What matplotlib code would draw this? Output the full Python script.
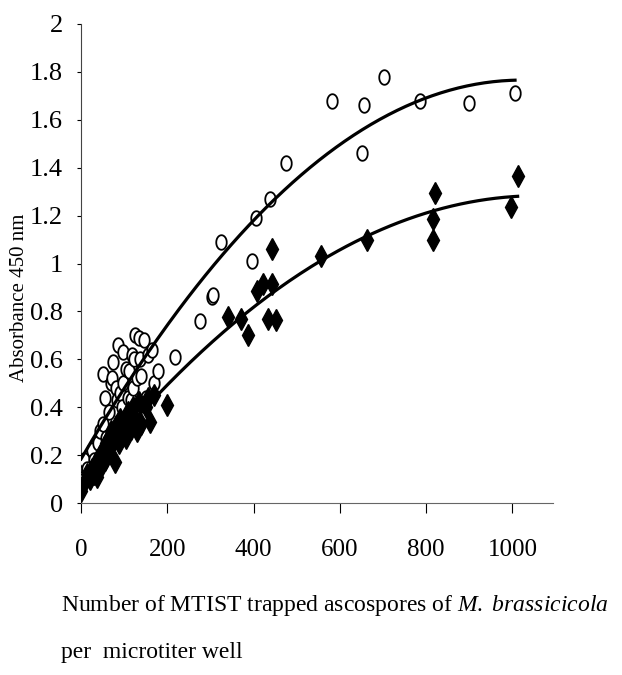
import matplotlib
matplotlib.use("Agg")
import matplotlib.pyplot as plt
import numpy as np
from matplotlib.path import Path

# open circles (upper series)
circle_x = [0, 3, 8, 15, 25, 30, 40, 45, 50, 52, 55, 58, 65, 70, 73, 75, 80, 83, 86, 90,
            95, 98, 98, 105, 110, 112, 115, 118, 120, 123, 125, 130, 135, 137, 140, 145, 150,
            155, 165, 170, 178, 218, 276, 304, 307, 324, 396, 405, 438, 475, 582, 652, 655,
            702, 786, 900, 1006]
circle_y = [0.08, 0.10, 0.18, 0.14, 0.22, 0.18, 0.25, 0.30, 0.33, 0.54, 0.44, 0.27, 0.38, 0.50,
            0.52, 0.59, 0.48, 0.43, 0.66, 0.46, 0.40, 0.63, 0.50, 0.56, 0.44, 0.55, 0.43, 0.62,
            0.48, 0.60, 0.70, 0.52, 0.69, 0.60, 0.53, 0.68, 0.44, 0.62, 0.64, 0.50, 0.55, 0.61,
            0.76, 0.86, 0.87, 1.09, 1.01, 1.19, 1.27, 1.42, 1.68, 1.46, 1.66, 1.78, 1.68, 1.67,
            1.71]

# filled diamonds (lower series)
diamond_x = [0, 10, 15, 20, 25, 30, 35, 38, 40, 45, 48, 50, 55, 58, 60, 65, 68, 70, 75, 78,
             80, 85, 88, 90, 95, 100, 105, 110, 115, 120, 125, 130, 135, 140, 150, 155, 160,
             170, 200, 341, 371, 388, 407, 422, 434, 442, 442, 453, 556, 664, 817, 817, 820,
             997, 1012]
diamond_y = [0.05, 0.09, 0.12, 0.10, 0.14, 0.12, 0.17, 0.11, 0.15, 0.20, 0.16, 0.22, 0.18, 0.25,
             0.21, 0.27, 0.23, 0.30, 0.26, 0.17, 0.32, 0.28, 0.25, 0.35, 0.30, 0.33, 0.27, 0.38,
             0.31, 0.40, 0.35, 0.30, 0.42, 0.33, 0.40, 0.44, 0.34, 0.45, 0.41, 0.775, 0.77, 0.70,
             0.886, 0.914, 0.77, 0.914, 1.06, 0.764, 1.032, 1.10, 1.10, 1.186, 1.293, 1.237,
             1.367]

x_ticks = [0, 200, 400, 600, 800, 1000]
y_ticks = [0, 0.2, 0.4, 0.6, 0.8, 1, 1.2, 1.4, 1.6, 1.8, 2]
y_tick_labels = ["0", "0.2", "0.4", "0.6", "0.8", "1", "1.2", "1.4", "1.6", "1.8", "2"]

plt.rcParams["font.family"] = ["Liberation Serif", "DejaVu Serif"]
plt.rcParams["mathtext.fontset"] = "custom"
plt.rcParams["mathtext.rm"] = "Liberation Serif"
plt.rcParams["mathtext.it"] = "Liberation Serif:italic"

fig = plt.figure(figsize=(6.22, 6.75), dpi=100)
ax = fig.add_axes([81 / 622, 172 / 675, 472 / 622, 479 / 675])

# tall oval marker, like the stretched circles in the scan
t = np.linspace(0, 2 * np.pi, 40)
oval = Path(np.column_stack([0.36 * np.cos(t), 0.5 * np.sin(t)]))

ax.plot(circle_x, circle_y, linestyle="none", marker=oval, markersize=10.5,
        markerfacecolor="white", markeredgecolor="black", markeredgewidth=1.3, zorder=3)
ax.plot(diamond_x, diamond_y, linestyle="none", marker="d", markersize=11,
        markerfacecolor="black", markeredgecolor="black", zorder=4)

# 2nd order polynomial trendlines
for xs, ys in [(circle_x, circle_y), (diamond_x, diamond_y)]:
    coef = np.polyfit(xs, ys, 2)
    xx = np.linspace(0, max(xs), 200)
    ax.plot(xx, np.polyval(coef, xx), color="black", linewidth=2.3, zorder=5)

ax.set_xlim(0, 1094)
ax.set_ylim(0, 2)
ax.set_xticks(x_ticks)
ax.set_yticks(y_ticks)
ax.set_yticklabels(y_tick_labels)
ax.spines["top"].set_visible(False)
ax.spines["right"].set_visible(False)
ax.spines["left"].set_linewidth(0.8)
ax.spines["bottom"].set_linewidth(0.8)
ax.spines["left"].set_color("#444444")
ax.spines["bottom"].set_color("#666666")
ax.tick_params(axis="x", direction="out", length=7, width=0.8, pad=19, labelsize=18)
ax.tick_params(axis="y", direction="out", length=3, width=0.8, pad=10, labelsize=19)

fig.text(20 / 622, 1 - 298 / 675, "Absorbance 450 nm", rotation=90, ha="center",
         va="center", fontsize=15)
fig.text(61 / 622, 1 - 611 / 675,
         "Number of MTIST trapped ascospores of $\\it{M.\\ brassicicola}$",
         ha="left", va="baseline", fontsize=17)
fig.text(61 / 622, 1 - 658 / 675, "per  microtiter well", ha="left", va="baseline",
         fontsize=17)

fig.savefig("out.png", dpi=100)
